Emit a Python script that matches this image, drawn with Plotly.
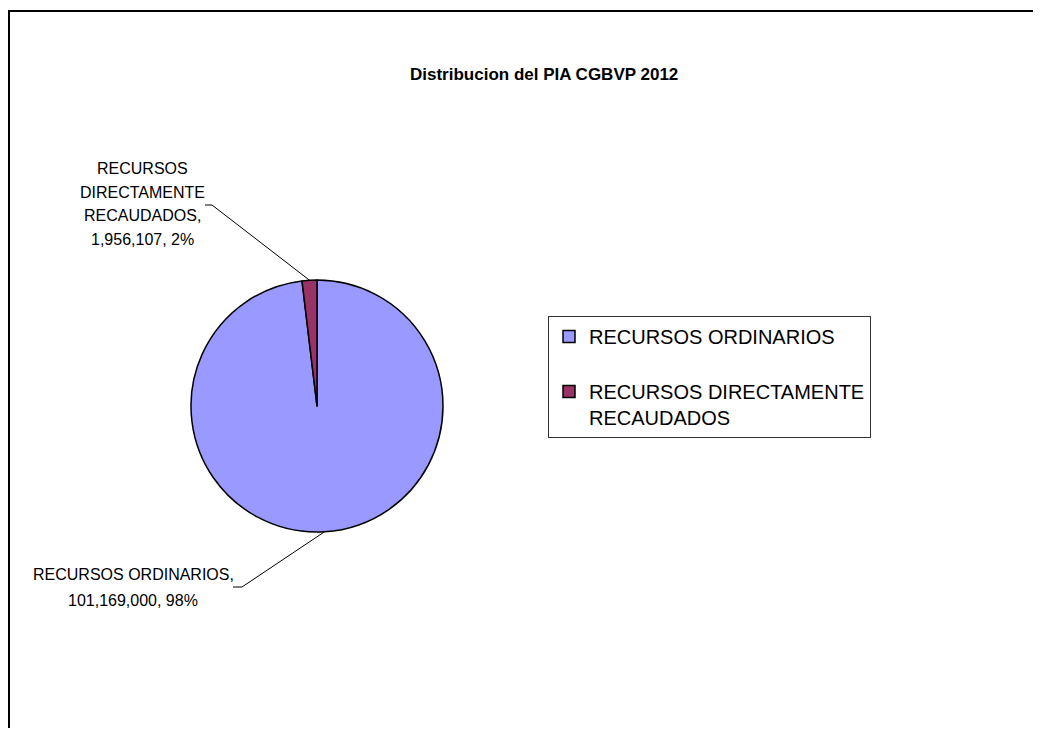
import math
import plotly.graph_objects as go

# ---- data ----
title_text = "Distribucion del PIA CGBVP 2012"
categories = ["RECURSOS ORDINARIOS", "RECURSOS DIRECTAMENTE RECAUDADOS"]
values = [101169000, 1956107]
colors = ["#9999FF", "#993366"]
legend_texts = ["RECURSOS ORDINARIOS<br> ", "RECURSOS DIRECTAMENTE<br>RECAUDADOS"]

# page is 1041x736 with an 8px body margin
OFF = 8
W, H = 1041 - 2 * OFF, 736 - 2 * OFF
FONT = "Liberation Sans, Arial, sans-serif"

# pie geometry (page pixels)
cx, cy, R = 317, 406, 126

total = sum(values)
pcts = [round(v / total * 100) for v in values]


def px(x):
    return (x - OFF) / W


def py(y):
    return 1 - (y - OFF) / H


fig = go.Figure()
fig.add_trace(go.Pie(
    labels=legend_texts,
    values=values,
    customdata=categories,
    sort=False,
    direction="clockwise",
    rotation=0,
    textinfo="none",
    hovertemplate="%{customdata}<br>%{value:,}<br>%{percent}<extra></extra>",
    marker=dict(colors=colors, line=dict(color="black", width=1.5)),
    domain=dict(x=[px(cx - R), px(cx + R)], y=[py(cy + R), py(cy - R)]),
    showlegend=True,
))

# label lines
label_lines = [
    [categories[0] + ",", f"{values[0]:,}, {pcts[0]}%"],
    categories[1].split(" ")[:-1] + [categories[1].split(" ")[-1] + ",", f"{values[1]:,}, {pcts[1]}%"],
]
label_pos = [  # (center x, first line y, line spacing) in page px
    (133, 574, 26),
    (142, 168, 24),
]
leader_ends = [  # (elbow x, elbow y, tail x)
    (242, 587, 233),
    (212, 205, 205),
]

annotations = []
shapes = []

for i, lines in enumerate(label_lines):
    x0, y0, dy = label_pos[i]
    for j, ln in enumerate(lines):
        annotations.append(dict(
            x=px(x0), y=py(y0 + j * dy), xref="paper", yref="paper",
            text=ln, showarrow=False, xanchor="center", yanchor="middle",
            font=dict(family=FONT, size=16, color="black"),
        ))

# leader lines computed from slice mid angles
cum = 0
for i, v in enumerate(values):
    mid = (cum + v / 2) / total * 2 * math.pi  # clockwise from 12 o'clock
    cum += v
    sx = cx + R * math.sin(mid)
    sy = cy - R * math.cos(mid)
    ex, ey, tx = leader_ends[i]
    for (xa, ya, xb, yb) in [(sx, sy, ex, ey), (ex, ey, tx, ey)]:
        shapes.append(dict(
            type="line", xref="paper", yref="paper",
            x0=px(xa), y0=py(ya), x1=px(xb), y1=py(yb),
            line=dict(color="black", width=1),
        ))

# outer chart border (left and top visible)
shapes.append(dict(type="line", xref="paper", yref="paper",
                   x0=px(9), y0=py(740), x1=px(9), y1=py(10),
                   line=dict(color="black", width=2)))
shapes.append(dict(type="line", xref="paper", yref="paper",
                   x0=px(8), y0=py(11), x1=px(1045), y1=py(11),
                   line=dict(color="black", width=2)))

annotations.append(dict(
    x=px(544), y=py(74), xref="paper", yref="paper",
    text=f"<b>{title_text}</b>", showarrow=False, xanchor="center", yanchor="middle",
    font=dict(family=FONT, size=17, color="black"),
))

fig.update_layout(
    width=W, height=H,
    margin=dict(l=0, r=0, t=0, b=0),
    paper_bgcolor="white",
    plot_bgcolor="white",
    annotations=annotations,
    shapes=shapes,
    legend=dict(
        x=px(548), y=py(316), xanchor="left", yanchor="top",
        bordercolor="#333333", borderwidth=1,
        font=dict(family=FONT, size=20, color="black"),
        valign="top",
        bgcolor="white",
    ),
)

fig.write_html("out.html")
